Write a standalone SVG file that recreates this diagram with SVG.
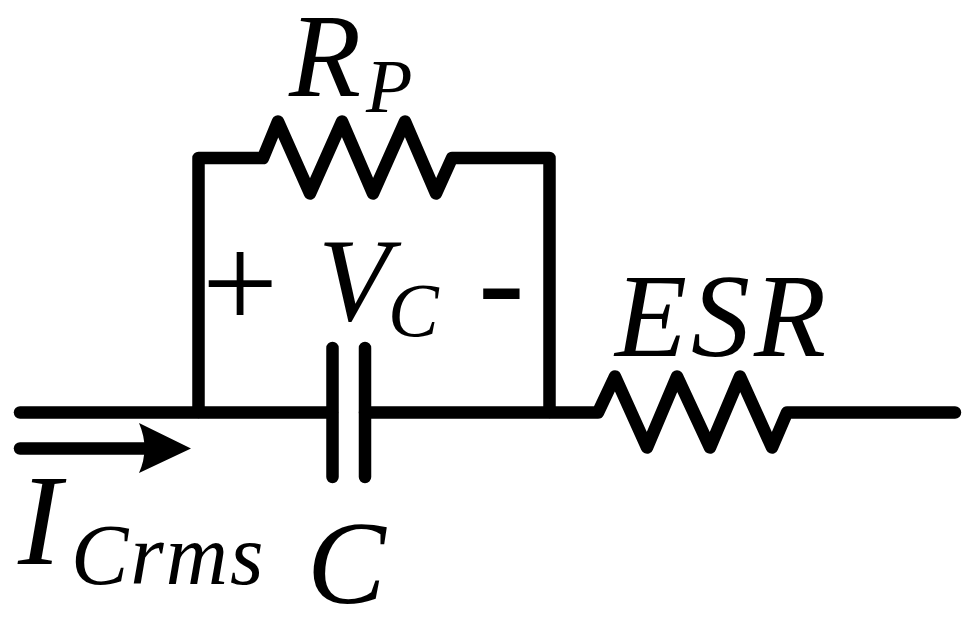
<svg xmlns="http://www.w3.org/2000/svg" width="979" height="624" viewBox="0 0 979 624">
<style>
.w{fill:none;stroke:#000;stroke-width:12.5;stroke-linecap:round;stroke-linejoin:round}
.t{font-family:"Liberation Serif",serif;font-style:italic;fill:#000}
.n{font-family:"Liberation Serif",serif;fill:#000}
</style>
<rect width="979" height="624" fill="#fff"/>
<g id="connectors">
<path class="w" d="M20 412.5H332"/>
<path class="w" d="M198.500 412V158H263L278 121.500L310 193.500L342 121.500L373 193.500L405 121.500L436 193.500L452 158H549.500V412"/>
<path class="w" d="M365 412.500H598L615 376.500L647 447.500L677 376.500L710 447.500L740 376.500L772 447.500L787 412.500H955"/>
<path class="w" d="M20 448.500H146"/>
<path d="M139 423L191 448.500L139 473Q150 448.500 139 423Z" fill="#000"/>
</g>
<g id="capacitor">
<path class="w" d="M332.500 348V477M365 348V477"/>
</g>
<g id="labels">
<text class="t" x="289" y="96" font-size="118">R</text>
<text class="t" x="366" y="112" font-size="76">P</text>
<text class="n" x="202" y="329" font-size="135">+</text>
<text class="t" x="318" y="320" font-size="118">V</text>
<text class="t" x="388" y="336" font-size="76">C</text>
<text class="t" x="478" y="327" font-size="140">-</text>
<text class="t" x="615" y="356" font-size="118" letter-spacing="4">ESR</text>
<text class="t" x="18" y="564" font-size="130">I</text>
<text class="t" x="71" y="584" font-size="86" letter-spacing="2">Crms</text>
<text class="t" x="307" y="603" font-size="118">C</text>
</g>
</svg>
